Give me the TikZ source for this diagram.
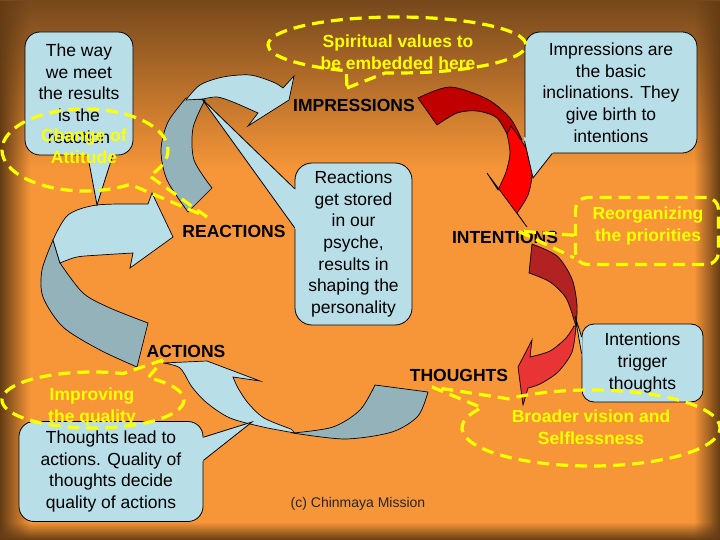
\documentclass[tikz,border=0pt]{standalone}
\usepackage{fontspec}
\setmainfont{Liberation Sans}
\usetikzlibrary{calc,shapes.callouts,fadings}

\definecolor{orangebg}{RGB}{247,150,56}
\definecolor{topbrown}{RGB}{118,72,28}
\definecolor{edgebrown}{RGB}{100,60,20}
\definecolor{calloutblue}{RGB}{184,222,232}
\definecolor{ribbongray}{RGB}{148,178,186}
\definecolor{darkred}{RGB}{192,0,0}
\definecolor{brightred}{RGB}{255,0,0}
\definecolor{brickred}{RGB}{178,34,34}
\definecolor{lightred}{RGB}{232,52,52}
\definecolor{hintyellow}{RGB}{255,255,0}

\tikzfading[name=fadeeast, left color=transparent!0, right color=transparent!100]
\tikzfading[name=fadewest, left color=transparent!100, right color=transparent!0]
\tikzfading[name=fadesouth, top color=transparent!100, bottom color=transparent!0]

\tikzset{
  notebox/.style={draw=black, line width=0.8pt, fill=calloutblue, rounded corners=15pt,
    align=center, inner sep=0pt, font=\fontsize{17.5}{21.7}\selectfont},
  tailline/.style={draw=black, line width=0.8pt},
  stagelabel/.style={font=\fontsize{17.5}{21}\selectfont\bfseries, inner sep=0pt},
  ribbon/.style={draw=black, line width=0.7pt},
  hintoval/.style={ellipse callout, draw=hintyellow, line width=3.2pt,
    dash pattern=on 12pt off 7pt, inner sep=0pt, callout pointer arc=18},
  hintline/.style={draw=hintyellow, line width=3.2pt, dash pattern=on 12pt off 7pt},
  hinttext/.style={text=hintyellow, align=center, inner sep=0pt,
    font=\fontsize{17.5}{21.5}\selectfont\bfseries}
}

\begin{document}
\begin{tikzpicture}[x=1pt,y=-1pt]

\useasboundingbox (0,0) rectangle (720,540);

% background
\fill[orangebg] (0,0) rectangle (720,540);
\shade[top color=topbrown, bottom color=orangebg] (0,0) rectangle (720,170);
\fill[edgebrown, path fading=fadeeast] (0,0) rectangle (30,540);
\fill[edgebrown, path fading=fadewest] (694,0) rectangle (720,540);
\fill[edgebrown, path fading=fadesouth] (0,522) rectangle (720,540);

% reactions -> impressions
\filldraw[ribbon, fill=ribbongray] (212,188) -- (188,212)
  -- plot[smooth] coordinates {(188,212) (167,180) (161,150) (168,122) (186,98)}
  -- (205,100)
  -- plot[smooth] coordinates {(205,100) (193,128) (194,160) (212,188)} -- cycle;
\filldraw[ribbon, fill=calloutblue] (186,100)
  -- plot[smooth] coordinates {(186,100) (200,85) (223,77) (250,75) (273,82) (283,88)}
  -- (294,76) -- (289,100) -- (248,126) -- (258,113)
  -- plot[smooth] coordinates {(258,113) (233,102) (217,97) (203,99)} -- cycle;

% actions -> reactions
\filldraw[ribbon, fill=ribbongray] (148,323) -- (137,367)
  -- plot[smooth] coordinates {(137,367) (100,350) (63,327) (43,297) (42,270) (53,240)}
  -- (60,263)
  -- plot[smooth] coordinates {(60,263) (83,293) (110,308) (148,323)} -- cycle;
\filldraw[ribbon, fill=calloutblue] (53,240)
  -- plot[smooth] coordinates {(53,240) (68,215) (97,205) (148,204)}
  -- (152,193) -- (173,237) -- (130,268) -- (133,253)
  -- plot[smooth] coordinates {(133,253) (100,255) (77,257) (60,263)} -- cycle;

% thoughts -> actions
\filldraw[ribbon, fill=ribbongray] (375,385) -- (428,392)
  -- plot[smooth] coordinates {(428,392) (418,416) (392,432) (345,439) (293,433)}
  -- plot[smooth] coordinates {(293,433) (333,427) (360,410) (375,385)} -- cycle;
\filldraw[ribbon, fill=calloutblue] (163,363) -- (207,361) -- (260,381) -- (233,377)
  -- plot[smooth] coordinates {(233,377) (238,388) (248,403) (264,418) (291,429)}
  -- plot[smooth] coordinates {(295,433) (263,427) (230,418) (207,403) (192,387) (180,368) (163,363)}
  -- cycle;

% impressions -> intentions
\filldraw[ribbon, fill=darkred] (437,125) -- (418,98)
  -- plot[smooth] coordinates {(418,98) (450,87) (487,99) (510,118) (522,140)}
  -- (510,140)
  -- plot[smooth] coordinates {(510,140) (497,118) (477,111) (457,113) (437,125)} -- cycle;
\filldraw[ribbon, fill=brightred] (511,126)
  -- plot[smooth] coordinates {(511,126) (527,150) (532,173) (528,195) (517,213)}
  -- (527,227) -- (487,173) -- (498,190)
  -- plot[smooth] coordinates {(498,190) (506,172) (510,153) (507,134)} -- cycle;

% intentions -> thoughts
\filldraw[ribbon, fill=brickred] (532,244)
  -- plot[smooth] coordinates {(532,244) (557,256) (572,279) (577,305) (576,326)}
  -- plot[smooth] coordinates {(574,320) (566,298) (550,282) (529,273)} -- cycle;
\filldraw[ribbon, fill=lightred] (576,326)
  -- plot[smooth] coordinates {(576,326) (572,352) (558,372) (540,384) (528,388)}
  -- (523,405) -- (518,367) -- (532,340) -- (530,357)
  -- plot[smooth] coordinates {(530,357) (550,351) (566,338) (574,326)} -- cycle;

% callouts
\node[notebox, minimum width=108pt, minimum height=123pt] (bWay) at (79,93.5)
  {The way\\we meet\\the results\\is the\\reaction};
\node[notebox, minimum width=172pt, minimum height=121pt] (bImpr) at (611,92.5)
  {Impressions are\\the basic\\inclinations. They\\give birth to\\intentions};
\node[notebox, rounded corners=17pt, minimum width=117pt, minimum height=162pt] (bStore) at (353.5,244)
  {Reactions\\get stored\\in our\\psyche,\\results in\\shaping the\\personality};
\node[notebox, minimum width=184pt, minimum height=100pt] (bLead) at (111,471.5)
  {Thoughts lead to\\actions. Quality of\\thoughts decide\\quality of actions};
\node[notebox, rounded corners=12pt, minimum width=121pt, minimum height=78pt] (bTrig) at (642.5,363)
  {Intentions\\trigger\\thoughts};

\coordinate (cWayTipPt) at (97,205);
\coordinate (cWayAPt) at ($(bWay.south west)!0.58!(bWay.south east)$);
\coordinate (cWayBPt) at ($(bWay.south west)!0.81!(bWay.south east)$);
\coordinate (cImprTipPt) at (533,178);
\coordinate (cImprAPt) at ($(bImpr.north west)!0.90!(bImpr.south west)$);
\coordinate (cImprBPt) at ($(bImpr.south west)!0.16!(bImpr.south east)$);
\coordinate (cStoreTipPt) at (202,99);
\coordinate (cStoreAPt) at ($(bStore.north west)!0.16!(bStore.south west)$);
\coordinate (cStoreBPt) at ($(bStore.north west)!0.40!(bStore.south west)$);
\coordinate (cLeadTipPt) at (252,422);
\coordinate (cLeadAPt) at ($(bLead.north east)!0.16!(bLead.south east)$);
\coordinate (cLeadBPt) at ($(bLead.north east)!0.39!(bLead.south east)$);
\coordinate (cTrigTipPt) at (575,316);
\coordinate (cTrigAPt) at ($(bTrig.north west)!0.17!(bTrig.south west)$);
\coordinate (cTrigBPt) at ($(bTrig.north west)!0.38!(bTrig.south west)$);

\foreach \b in {Way,Impr,Store,Lead,Trig}
{
    \fill[calloutblue] ($(c\b TipPt)!1.12!(c\b APt)$) -- (c\b TipPt)
      -- ($(c\b TipPt)!1.12!(c\b BPt)$) -- cycle;
    \draw[tailline] (c\b APt) -- (c\b TipPt) -- (c\b BPt);
};

% stage labels
\foreach \n/\x/\y/\t in
{lImpr/354/105/IMPRESSIONS,
    lReact/234/231/REACTIONS,
    lInt/505/237/INTENTIONS,
    lAct/186/351/ACTIONS,
    lThou/459/375/THOUGHTS
}
{
    \node[stagelabel] (\n) at (\x,\y) {\t};
};

\node[font=\fontsize{14}{16}\selectfont, text=black!85] (nCredit) at (358,504) {(c) Chinmaya Mission};

% yellow hints
\node[hintoval, minimum width=258pt, minimum height=56pt, callout absolute pointer={(347,88)}] (oSpirit) at (397,45) {};
\node[hintoval, minimum width=166pt, minimum height=82pt, callout absolute pointer={(207,217)}] (oAttitude) at (85,150) {};
\node[hintoval, minimum width=182pt, minimum height=56pt, callout absolute pointer={(163,360)}] (oQuality) at (93,400) {};
\node[hintoval, minimum width=258pt, minimum height=76pt, callout absolute pointer={(432,387)}] (oVision) at (591,428) {};
\node[hintline, rounded corners=12pt, minimum width=143pt, minimum height=67pt] (rPriority) at (647,231) {};
\coordinate (cPrioTipPt) at (518,231);
\draw[hintline] ($(rPriority.north west)!0.56!(rPriority.south west)$) -- (cPrioTipPt)
  -- ($(rPriority.north west)!0.88!(rPriority.south west)$);

\node[hinttext] (tSpirit) at (398,52) {Spiritual values to\\be embedded here};
\node[hinttext] (tAttitude) at (84,146) {Change of\\Attitude};
\node[hinttext] (tQuality) at (92,407) {Improving\\the quality};
\node[hinttext] (tPriority) at (648,226) {Reorganizing\\the priorities};
\node[hinttext] (tVision) at (591,427) {Broader vision and\\Selflessness};

\end{tikzpicture}
\end{document}
